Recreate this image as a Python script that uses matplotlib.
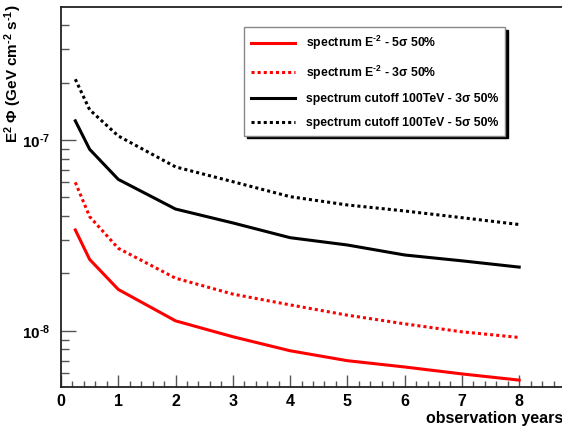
import numpy as np
import matplotlib
matplotlib.use("Agg")
import matplotlib.pyplot as plt
from matplotlib.ticker import LogLocator, NullFormatter, MultipleLocator

plt.rcParams['font.family'] = ['Liberation Sans', 'DejaVu Sans']
plt.rcParams['font.weight'] = 'bold'
plt.rcParams['mathtext.fontset'] = 'custom'
plt.rcParams['mathtext.rm'] = 'Liberation Sans:bold'
plt.rcParams['mathtext.bf'] = 'Liberation Sans:bold'
plt.rcParams['mathtext.it'] = 'Liberation Sans:bold:italic'
plt.rcParams['mathtext.default'] = 'bf'

# observation time (years)
years = [0.25, 0.5, 1, 2, 3, 4, 5, 6, 7, 8]

# sensitivity E^2 Phi (GeV cm^-2 s^-1)
e2_5sigma = [3.38e-8, 2.37e-8, 1.65e-8, 1.13e-8, 9.33e-9, 7.88e-9, 6.99e-9, 6.48e-9, 5.96e-9, 5.53e-9]
e2_3sigma = [6.0e-8, 3.97e-8, 2.71e-8, 1.89e-8, 1.56e-8, 1.37e-8, 1.21e-8, 1.09e-8, 9.9e-9, 9.25e-9]
cut_3sigma = [1.26e-7, 8.94e-8, 6.22e-8, 4.35e-8, 3.68e-8, 3.08e-8, 2.82e-8, 2.50e-8, 2.33e-8, 2.16e-8]
cut_5sigma = [2.08e-7, 1.44e-7, 1.05e-7, 7.23e-8, 6.05e-8, 5.05e-8, 4.57e-8, 4.25e-8, 3.92e-8, 3.61e-8]

labels = [
    r"spectrum E$^{\text{-}2}$ - 5σ 50%",
    r"spectrum E$^{\text{-}2}$ - 3σ 50%",
    "spectrum cutoff 100TeV - 3σ 50%",
    "spectrum cutoff 100TeV - 5σ 50%",
]
ytick_vals = [1e-8, 1e-7]
ytick_labels = [r"10$^{\text{-}8}$", r"10$^{\text{-}7}$"]

W, H = 562, 430
fig = plt.figure(figsize=(W / 100, H / 100), dpi=100)
ax = fig.add_axes([61 / W, 43 / H, 504 / W, 380 / H])

dots = (0, (1, 1))
ax.plot(years, e2_5sigma, color='red', lw=2.2, label=labels[0])
ax.plot(years, e2_3sigma, color='red', lw=2.2, ls=dots, label=labels[1])
ax.plot(years, cut_3sigma, color='black', lw=2.2, label=labels[2])
ax.plot(years, cut_5sigma, color='black', lw=2.2, ls=dots, label=labels[3])

ax.set_yscale('log')
ax.set_xlim(0, 8.8)
ax.set_ylim(5.09e-9, 4.97e-7)

ax.xaxis.set_major_locator(MultipleLocator(1))
ax.xaxis.set_minor_locator(MultipleLocator(0.2))
ax.set_yticks(ytick_vals)
ax.set_yticklabels(ytick_labels)
ax.yaxis.set_minor_locator(LogLocator(base=10, subs=np.arange(2, 10)))
ax.yaxis.set_minor_formatter(NullFormatter())

ax.tick_params(axis='x', which='major', direction='in', length=9, width=1, color='#555555',
               labelsize=11.5, pad=5, top=False)
ax.tick_params(axis='x', which='minor', direction='in', length=4.5, width=1, color='#555555', top=False)
ax.tick_params(axis='y', which='major', direction='in', length=11, width=1, color='#555555',
               labelsize=11, pad=8, right=False)
ax.tick_params(axis='y', which='minor', direction='in', length=5.5, width=1, color='#555555', right=False)

for s in ax.spines.values():
    s.set_linewidth(1.3)
    s.set_color('#222222')

fig.text(W + 1, H - 418, "observation years", ha='right', va='center', fontsize=11.5,
         transform=None)
fig.text(13.5 / W, 1 - 4 / H, r"E$^{2}$ Φ (GeV cm$^{\text{-}2}$ s$^{\text{-}1}$)", rotation=90,
         ha='center', va='top', fontsize=11)

leg = ax.legend(loc='upper left', bbox_to_anchor=(244 / W, 1 - 27 / H),
                bbox_transform=fig.transFigure, fontsize=8.8, frameon=True, fancybox=False,
                shadow={'color': 'black', 'alpha': 1}, handlelength=3.6, handletextpad=0.95,
                borderpad=0.55, labelspacing=0.95, borderaxespad=0)
leg.get_frame().set_edgecolor('#888888')
leg.get_frame().set_linewidth(1)
leg.get_frame().set_alpha(1)

fig.savefig("out.png", dpi=100)
